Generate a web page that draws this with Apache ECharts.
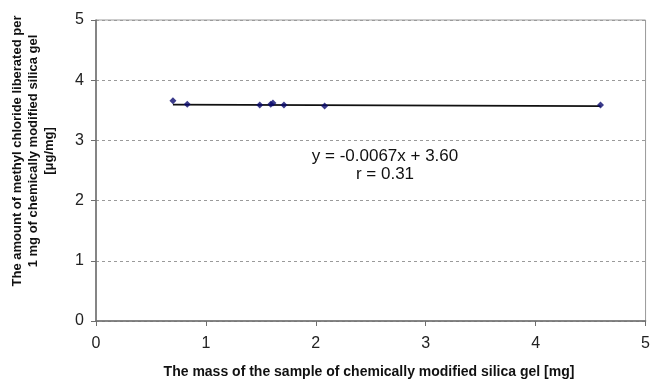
<!DOCTYPE html>
<html>
<head>
<meta charset="utf-8">
<script src="https://cdn.jsdelivr.net/npm/echarts@6/dist/echarts.min.js"></script>
<style>
  html, body {margin: 0; padding: 0; background: #fff;}
  #chart {width: 653px; height: 380px;}
</style>
</head>
<body>
<div id="chart"></div>
<script>
// measured points (mass [mg], amount [ug/mg])
const massValues = [0.70, 0.83, 1.49, 1.59, 1.61, 1.71, 2.08, 4.59];
const amountValues = [3.66, 3.60, 3.59, 3.60, 3.62, 3.59, 3.57, 3.59];

// regression as printed on the chart
const slope = -0.0067;
const intercept = 3.60;
const trendX = [0.70, 4.59];

const xTicks = [0, 1, 2, 3, 4, 5];
const yTicks = [0, 1, 2, 3, 4, 5];

const equationText = "y = -0.0067x + 3.60";
const rText = "r = 0.31";
const xTitle = "The mass of the sample of chemically modified silica gel [mg]";
const yTitleLines = [
  "The amount of methyl chloride liberated per",
  "1 mg of chemically modified silica gel",
  "[\u03bcg/mg]",
];

const font = "Liberation Sans, Arial, sans-serif";
const points = massValues.map((x, i) => [x, amountValues[i]]);
const trend = trendX.map(x => [x, slope * x + intercept]);

const chart = echarts.init(document.getElementById("chart"));
chart.setOption({
  animation: false,
  grid: {left: 96, right: 4, top: 20, bottom: 59, show: true, borderColor: "#9a9a9a", borderWidth: 1},
  xAxis: {
    type: "value", min: xTicks[0], max: xTicks[xTicks.length - 1], interval: 1,
    axisLine: {show: true, onZero: false, lineStyle: {color: "#6e6e6e", width: 1.5}},
    axisTick: {show: true, length: 5, lineStyle: {color: "#6e6e6e"}},
    axisLabel: {margin: 15, fontSize: 16, color: "#222", fontFamily: font},
    splitLine: {show: false},
  },
  yAxis: {
    type: "value", min: yTicks[0], max: yTicks[yTicks.length - 1], interval: 1,
    axisLine: {show: true, onZero: false, lineStyle: {color: "#6e6e6e", width: 1.5}},
    axisTick: {show: true, length: 5, lineStyle: {color: "#6e6e6e"}},
    axisLabel: {margin: 12, fontSize: 16, color: "#222", fontFamily: font},
    splitLine: {show: true, lineStyle: {color: "#9a9a9a", type: [3, 3], width: 1}},
  },
  series: [
    {
      type: "line", data: trend, symbol: "none",
      lineStyle: {color: "#111", width: 1.8}, z: 2,
    },
    {
      type: "scatter", data: points, symbol: "diamond", symbolSize: 7,
      itemStyle: {color: "#0a0a6e"}, z: 3,
    },
  ],
  graphic: [
    {
      type: "text", x: 385, y: 156,
      style: {text: equationText, fontSize: 17, fontFamily: font, fill: "#111", align: "center", verticalAlign: "middle"},
    },
    {
      type: "text", x: 385, y: 174,
      style: {text: rText, fontSize: 17, fontFamily: font, fill: "#111", align: "center", verticalAlign: "middle"},
    },
    {
      type: "text", x: 369, y: 372,
      style: {text: xTitle, fontSize: 14, fontWeight: "bold", fontFamily: font, fill: "#111", align: "center", verticalAlign: "middle"},
    },
    {
      type: "text", x: 33, y: 151, rotation: Math.PI / 2,
      style: {text: yTitleLines.join("\n"), fontSize: 13, fontWeight: "bold", lineHeight: 16, fontFamily: font, fill: "#111", align: "center", verticalAlign: "middle"},
    },
  ],
});
</script>
</body>
</html>
